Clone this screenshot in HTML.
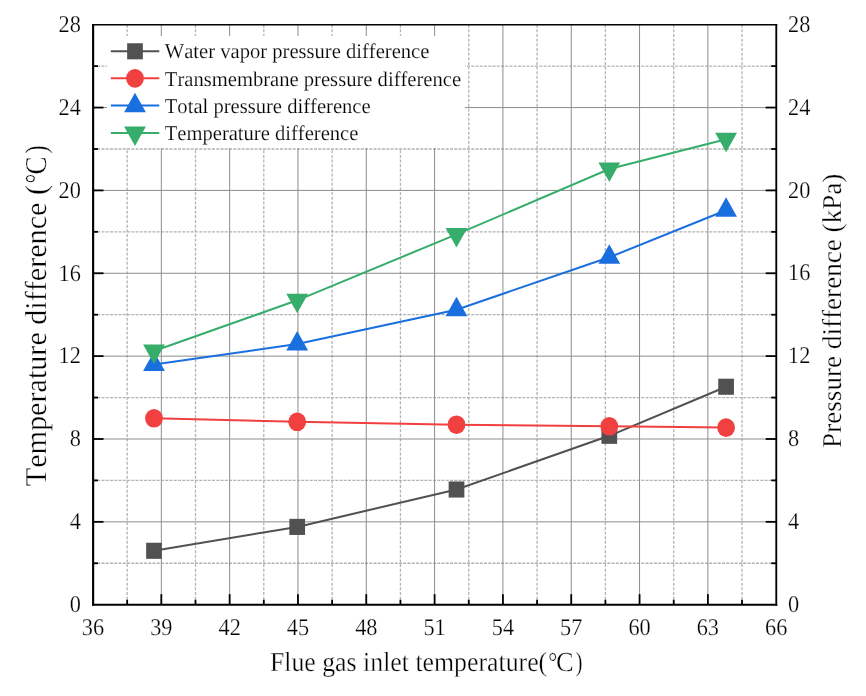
<!DOCTYPE html>
<html><head><meta charset="utf-8"><title>Chart</title>
<style>html,body{margin:0;padding:0;background:#fff;}body{width:866px;height:696px;overflow:hidden;}svg{display:block;}text{font-family:"Liberation Serif", serif;fill:#000;stroke:#fff;stroke-width:0.32px;font-kerning:none;font-variant-ligatures:none;text-rendering:geometricPrecision;}.tk text{stroke-width:0.25px;}.lg text{stroke-width:0.18px;}</style>
</head><body><div style="width:866px;height:696px;will-change:transform;">
<svg width="866" height="696" viewBox="0 0 866 696">
<rect x="0" y="0" width="866" height="696" fill="#fff"/>
<g fill="none" stroke-width="1">
<line x1="127.16" y1="24.70" x2="127.16" y2="604.70" stroke="#b3b3b3" stroke-width="1.3" stroke-dasharray="3 1.65"/>
<line x1="195.48" y1="24.70" x2="195.48" y2="604.70" stroke="#b3b3b3" stroke-width="1.3" stroke-dasharray="3 1.65"/>
<line x1="263.80" y1="24.70" x2="263.80" y2="604.70" stroke="#b3b3b3" stroke-width="1.3" stroke-dasharray="3 1.65"/>
<line x1="332.12" y1="24.70" x2="332.12" y2="604.70" stroke="#b3b3b3" stroke-width="1.3" stroke-dasharray="3 1.65"/>
<line x1="400.44" y1="24.70" x2="400.44" y2="604.70" stroke="#b3b3b3" stroke-width="1.3" stroke-dasharray="3 1.65"/>
<line x1="468.76" y1="24.70" x2="468.76" y2="604.70" stroke="#b3b3b3" stroke-width="1.3" stroke-dasharray="3 1.65"/>
<line x1="537.08" y1="24.70" x2="537.08" y2="604.70" stroke="#b3b3b3" stroke-width="1.3" stroke-dasharray="3 1.65"/>
<line x1="605.40" y1="24.70" x2="605.40" y2="604.70" stroke="#b3b3b3" stroke-width="1.3" stroke-dasharray="3 1.65"/>
<line x1="673.72" y1="24.70" x2="673.72" y2="604.70" stroke="#b3b3b3" stroke-width="1.3" stroke-dasharray="3 1.65"/>
<line x1="742.04" y1="24.70" x2="742.04" y2="604.70" stroke="#b3b3b3" stroke-width="1.3" stroke-dasharray="3 1.65"/>
<line x1="93.00" y1="563.27" x2="776.20" y2="563.27" stroke="#b3b3b3" stroke-width="1.3" stroke-dasharray="3 1.25"/>
<line x1="93.00" y1="480.41" x2="776.20" y2="480.41" stroke="#b3b3b3" stroke-width="1.3" stroke-dasharray="3 1.25"/>
<line x1="93.00" y1="397.56" x2="776.20" y2="397.56" stroke="#b3b3b3" stroke-width="1.3" stroke-dasharray="3 1.25"/>
<line x1="93.00" y1="314.70" x2="776.20" y2="314.70" stroke="#b3b3b3" stroke-width="1.3" stroke-dasharray="3 1.25"/>
<line x1="93.00" y1="231.84" x2="776.20" y2="231.84" stroke="#b3b3b3" stroke-width="1.3" stroke-dasharray="3 1.25"/>
<line x1="93.00" y1="148.99" x2="776.20" y2="148.99" stroke="#b3b3b3" stroke-width="1.3" stroke-dasharray="3 1.25"/>
<line x1="93.00" y1="66.13" x2="776.20" y2="66.13" stroke="#b3b3b3" stroke-width="1.3" stroke-dasharray="3 1.25"/>
<line x1="161.32" y1="24.70" x2="161.32" y2="604.70" stroke="#8c8c8c"/>
<line x1="229.64" y1="24.70" x2="229.64" y2="604.70" stroke="#8c8c8c"/>
<line x1="297.96" y1="24.70" x2="297.96" y2="604.70" stroke="#8c8c8c"/>
<line x1="366.28" y1="24.70" x2="366.28" y2="604.70" stroke="#8c8c8c"/>
<line x1="434.60" y1="24.70" x2="434.60" y2="604.70" stroke="#8c8c8c"/>
<line x1="502.92" y1="24.70" x2="502.92" y2="604.70" stroke="#8c8c8c"/>
<line x1="571.24" y1="24.70" x2="571.24" y2="604.70" stroke="#8c8c8c"/>
<line x1="639.56" y1="24.70" x2="639.56" y2="604.70" stroke="#8c8c8c"/>
<line x1="707.88" y1="24.70" x2="707.88" y2="604.70" stroke="#8c8c8c"/>
<line x1="93.00" y1="521.84" x2="776.20" y2="521.84" stroke="#8c8c8c"/>
<line x1="93.00" y1="438.99" x2="776.20" y2="438.99" stroke="#8c8c8c"/>
<line x1="93.00" y1="356.13" x2="776.20" y2="356.13" stroke="#8c8c8c"/>
<line x1="93.00" y1="273.27" x2="776.20" y2="273.27" stroke="#8c8c8c"/>
<line x1="93.00" y1="190.41" x2="776.20" y2="190.41" stroke="#8c8c8c"/>
<line x1="93.00" y1="107.56" x2="776.20" y2="107.56" stroke="#8c8c8c"/>
</g>
<rect x="107" y="36" width="358" height="112" fill="#fff"/>
<polyline points="154.00,550.80 297.20,526.90 456.50,489.50 609.30,435.80 726.10,386.75" fill="none" stroke="#515151" stroke-width="2.0"/>
<rect x="146.15" y="542.75" width="15.70" height="16.10" fill="#515151"/>
<rect x="289.35" y="518.85" width="15.70" height="16.10" fill="#515151"/>
<rect x="448.65" y="481.45" width="15.70" height="16.10" fill="#515151"/>
<rect x="601.45" y="427.75" width="15.70" height="16.10" fill="#515151"/>
<rect x="718.25" y="378.70" width="15.70" height="16.10" fill="#515151"/>
<polyline points="154.00,418.30 297.20,421.80 456.50,424.70 609.30,426.30 726.10,427.60" fill="none" stroke="#F14040" stroke-width="2.0"/>
<ellipse cx="154.00" cy="418.30" rx="8.90" ry="9.30" fill="#F14040"/>
<ellipse cx="297.20" cy="421.80" rx="8.90" ry="9.30" fill="#F14040"/>
<ellipse cx="456.50" cy="424.70" rx="8.90" ry="9.30" fill="#F14040"/>
<ellipse cx="609.30" cy="426.30" rx="8.90" ry="9.30" fill="#F14040"/>
<ellipse cx="726.10" cy="427.60" rx="8.90" ry="9.30" fill="#F14040"/>
<polyline points="154.00,364.50 297.20,344.00 456.50,309.70 609.30,257.30 726.10,210.30" fill="none" stroke="#1A6FDF" stroke-width="2.0"/>
<polygon points="154.00,351.50 143.10,371.00 164.90,371.00" fill="#1A6FDF"/>
<polygon points="297.20,331.00 286.30,350.50 308.10,350.50" fill="#1A6FDF"/>
<polygon points="456.50,296.70 445.60,316.20 467.40,316.20" fill="#1A6FDF"/>
<polygon points="609.30,244.30 598.40,263.80 620.20,263.80" fill="#1A6FDF"/>
<polygon points="726.10,197.30 715.20,216.80 737.00,216.80" fill="#1A6FDF"/>
<polyline points="154.00,351.00 297.20,300.30 456.50,234.40 609.30,169.00 726.10,139.30" fill="none" stroke="#37AD6B" stroke-width="2.0"/>
<polygon points="154.00,364.00 143.10,344.50 164.90,344.50" fill="#37AD6B"/>
<polygon points="297.20,313.30 286.30,293.80 308.10,293.80" fill="#37AD6B"/>
<polygon points="456.50,247.40 445.60,227.90 467.40,227.90" fill="#37AD6B"/>
<polygon points="609.30,182.00 598.40,162.50 620.20,162.50" fill="#37AD6B"/>
<polygon points="726.10,152.30 715.20,132.80 737.00,132.80" fill="#37AD6B"/>
<g stroke="#000" fill="none" stroke-linecap="butt">
<line x1="93.12" y1="23.95" x2="93.12" y2="605.8" stroke-width="2.15"/>
<line x1="92.05" y1="604.7" x2="777.2" y2="604.7" stroke-width="2.15"/>
<line x1="776.28" y1="23.95" x2="776.28" y2="605.8" stroke-width="1.85"/>
<line x1="92.05" y1="24.72" x2="777.2" y2="24.72" stroke-width="1.55"/>
</g>
<g stroke="#000" fill="none" stroke-width="1.8">
<line x1="127.16" y1="604.70" x2="127.16" y2="599.70"/>
<line x1="161.32" y1="604.70" x2="161.32" y2="594.20"/>
<line x1="195.48" y1="604.70" x2="195.48" y2="599.70"/>
<line x1="229.64" y1="604.70" x2="229.64" y2="594.20"/>
<line x1="263.80" y1="604.70" x2="263.80" y2="599.70"/>
<line x1="297.96" y1="604.70" x2="297.96" y2="594.20"/>
<line x1="332.12" y1="604.70" x2="332.12" y2="599.70"/>
<line x1="366.28" y1="604.70" x2="366.28" y2="594.20"/>
<line x1="400.44" y1="604.70" x2="400.44" y2="599.70"/>
<line x1="434.60" y1="604.70" x2="434.60" y2="594.20"/>
<line x1="468.76" y1="604.70" x2="468.76" y2="599.70"/>
<line x1="502.92" y1="604.70" x2="502.92" y2="594.20"/>
<line x1="537.08" y1="604.70" x2="537.08" y2="599.70"/>
<line x1="571.24" y1="604.70" x2="571.24" y2="594.20"/>
<line x1="605.40" y1="604.70" x2="605.40" y2="599.70"/>
<line x1="639.56" y1="604.70" x2="639.56" y2="594.20"/>
<line x1="673.72" y1="604.70" x2="673.72" y2="599.70"/>
<line x1="707.88" y1="604.70" x2="707.88" y2="594.20"/>
<line x1="742.04" y1="604.70" x2="742.04" y2="599.70"/>
<line x1="93.00" y1="563.27" x2="98.00" y2="563.27"/>
<line x1="776.20" y1="563.27" x2="771.20" y2="563.27"/>
<line x1="93.00" y1="521.84" x2="103.50" y2="521.84"/>
<line x1="776.20" y1="521.84" x2="765.70" y2="521.84"/>
<line x1="93.00" y1="480.41" x2="98.00" y2="480.41"/>
<line x1="776.20" y1="480.41" x2="771.20" y2="480.41"/>
<line x1="93.00" y1="438.99" x2="103.50" y2="438.99"/>
<line x1="776.20" y1="438.99" x2="765.70" y2="438.99"/>
<line x1="93.00" y1="397.56" x2="98.00" y2="397.56"/>
<line x1="776.20" y1="397.56" x2="771.20" y2="397.56"/>
<line x1="93.00" y1="356.13" x2="103.50" y2="356.13"/>
<line x1="776.20" y1="356.13" x2="765.70" y2="356.13"/>
<line x1="93.00" y1="314.70" x2="98.00" y2="314.70"/>
<line x1="776.20" y1="314.70" x2="771.20" y2="314.70"/>
<line x1="93.00" y1="273.27" x2="103.50" y2="273.27"/>
<line x1="776.20" y1="273.27" x2="765.70" y2="273.27"/>
<line x1="93.00" y1="231.84" x2="98.00" y2="231.84"/>
<line x1="776.20" y1="231.84" x2="771.20" y2="231.84"/>
<line x1="93.00" y1="190.41" x2="103.50" y2="190.41"/>
<line x1="776.20" y1="190.41" x2="765.70" y2="190.41"/>
<line x1="93.00" y1="148.99" x2="98.00" y2="148.99"/>
<line x1="776.20" y1="148.99" x2="771.20" y2="148.99"/>
<line x1="93.00" y1="107.56" x2="103.50" y2="107.56"/>
<line x1="776.20" y1="107.56" x2="765.70" y2="107.56"/>
<line x1="93.00" y1="66.13" x2="98.00" y2="66.13"/>
<line x1="776.20" y1="66.13" x2="771.20" y2="66.13"/>
</g>
<g class="tk" font-size="24">
<text x="69.75" y="612.00" textLength="11.15" lengthAdjust="spacingAndGlyphs">0</text>
<text x="788.00" y="611.90" textLength="11.15" lengthAdjust="spacingAndGlyphs">0</text>
<text x="69.75" y="529.14" textLength="11.15" lengthAdjust="spacingAndGlyphs">4</text>
<text x="788.00" y="529.04" textLength="11.15" lengthAdjust="spacingAndGlyphs">4</text>
<text x="69.75" y="446.29" textLength="11.15" lengthAdjust="spacingAndGlyphs">8</text>
<text x="788.00" y="446.19" textLength="11.15" lengthAdjust="spacingAndGlyphs">8</text>
<text x="58.60" y="363.43" textLength="22.30" lengthAdjust="spacingAndGlyphs">12</text>
<text x="788.00" y="363.33" textLength="22.30" lengthAdjust="spacingAndGlyphs">12</text>
<text x="58.60" y="280.57" textLength="22.30" lengthAdjust="spacingAndGlyphs">16</text>
<text x="788.00" y="280.47" textLength="22.30" lengthAdjust="spacingAndGlyphs">16</text>
<text x="58.60" y="197.71" textLength="22.30" lengthAdjust="spacingAndGlyphs">20</text>
<text x="788.00" y="197.61" textLength="22.30" lengthAdjust="spacingAndGlyphs">20</text>
<text x="58.60" y="114.86" textLength="22.30" lengthAdjust="spacingAndGlyphs">24</text>
<text x="788.00" y="114.76" textLength="22.30" lengthAdjust="spacingAndGlyphs">24</text>
<text x="58.60" y="32.00" textLength="22.30" lengthAdjust="spacingAndGlyphs">28</text>
<text x="788.00" y="31.90" textLength="22.30" lengthAdjust="spacingAndGlyphs">28</text>
<text x="81.85" y="635.20" textLength="22.30" lengthAdjust="spacingAndGlyphs">36</text>
<text x="150.17" y="635.20" textLength="22.30" lengthAdjust="spacingAndGlyphs">39</text>
<text x="218.49" y="635.20" textLength="22.30" lengthAdjust="spacingAndGlyphs">42</text>
<text x="286.81" y="635.20" textLength="22.30" lengthAdjust="spacingAndGlyphs">45</text>
<text x="355.13" y="635.20" textLength="22.30" lengthAdjust="spacingAndGlyphs">48</text>
<text x="423.45" y="635.20" textLength="22.30" lengthAdjust="spacingAndGlyphs">51</text>
<text x="491.77" y="635.20" textLength="22.30" lengthAdjust="spacingAndGlyphs">54</text>
<text x="560.09" y="635.20" textLength="22.30" lengthAdjust="spacingAndGlyphs">57</text>
<text x="628.41" y="635.20" textLength="22.30" lengthAdjust="spacingAndGlyphs">60</text>
<text x="696.73" y="635.20" textLength="22.30" lengthAdjust="spacingAndGlyphs">63</text>
<text x="765.05" y="635.20" textLength="22.30" lengthAdjust="spacingAndGlyphs">66</text>
</g>
<g id="xt">
<text x="269.90" y="671.40" font-size="27.5" textLength="277.30" lengthAdjust="spacingAndGlyphs">Flue gas inlet temperature(</text>
<text x="548.30" y="671.40" font-size="27.5" textLength="9.00" lengthAdjust="spacingAndGlyphs">&#176;</text>
<text x="555.90" y="671.40" font-size="27.5" textLength="17.60" lengthAdjust="spacingAndGlyphs">C</text>
<text x="575.60" y="671.40" font-size="27.5" textLength="7.00" lengthAdjust="spacingAndGlyphs">)</text>
</g>
<g id="yl" transform="translate(46.2,485.8) rotate(-90)">
<text x="-0.40" y="0.00" font-size="30.3" textLength="301.20" lengthAdjust="spacingAndGlyphs">Temperature difference (</text>
<text x="302.40" y="0.00" font-size="30.3" textLength="9.80" lengthAdjust="spacingAndGlyphs">&#176;</text>
<text x="311.20" y="0.00" font-size="30.3" textLength="18.00" lengthAdjust="spacingAndGlyphs">C</text>
<text x="332.40" y="0.00" font-size="30.3" textLength="8.20" lengthAdjust="spacingAndGlyphs">)</text>
</g>
<g id="yr" transform="translate(841.3,447.5) rotate(-90)">
<text x="-0.40" y="0.00" font-size="27.3" textLength="274.30" lengthAdjust="spacingAndGlyphs">Pressure difference (kPa)</text>
</g>
<line x1="110.8" y1="51.30" x2="159.3" y2="51.30" stroke="#515151" stroke-width="2.0"/>
<rect x="127.15" y="43.25" width="15.70" height="16.10" fill="#515151"/>
<g class="lg"><text x="164.80" y="58.20" font-size="21" textLength="264.60" lengthAdjust="spacingAndGlyphs">Water vapor pressure difference</text></g>
<line x1="110.8" y1="78.35" x2="159.3" y2="78.35" stroke="#F14040" stroke-width="2.0"/>
<ellipse cx="135.00" cy="78.35" rx="8.90" ry="9.30" fill="#F14040"/>
<g class="lg"><text x="164.80" y="85.50" font-size="21" textLength="296.30" lengthAdjust="spacingAndGlyphs">Transmembrane pressure difference</text></g>
<line x1="110.8" y1="105.60" x2="159.3" y2="105.60" stroke="#1A6FDF" stroke-width="2.0"/>
<polygon points="135.00,92.80 124.10,112.30 145.90,112.30" fill="#1A6FDF"/>
<g class="lg"><text x="164.80" y="113.00" font-size="21" textLength="205.80" lengthAdjust="spacingAndGlyphs">Total pressure difference</text></g>
<line x1="110.8" y1="133.10" x2="159.3" y2="133.10" stroke="#37AD6B" stroke-width="2.0"/>
<polygon points="135.00,145.90 124.10,126.40 145.90,126.40" fill="#37AD6B"/>
<g class="lg"><text x="164.80" y="140.00" font-size="21" textLength="193.50" lengthAdjust="spacingAndGlyphs">Temperature difference</text></g>
</svg>
</div></body></html>
